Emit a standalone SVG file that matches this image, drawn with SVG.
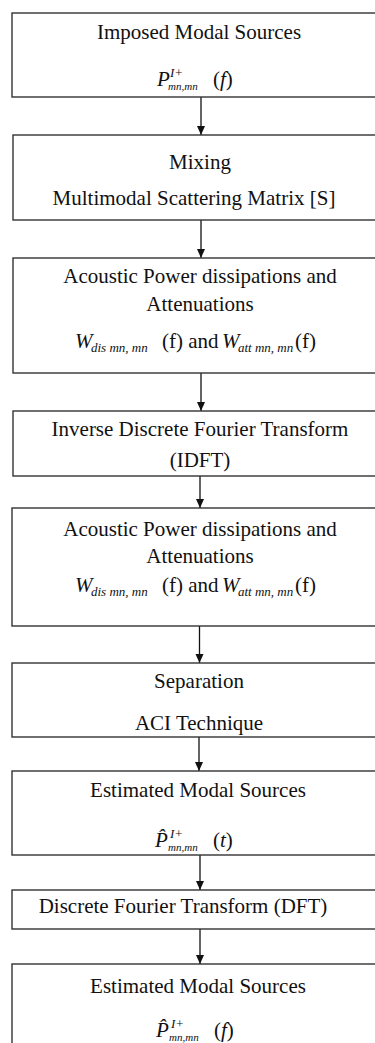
<svg xmlns="http://www.w3.org/2000/svg" width="375" height="1043" viewBox="0 0 375 1043">
<style>
  .box { fill: #ffffff; stroke: #333333; stroke-width: 1.4; }
  .t { font-family: "Liberation Serif", "Times New Roman", serif; font-size: 21px; fill: #111111; text-anchor: middle; }
  .f { font-family: "Liberation Serif", "Times New Roman", serif; font-size: 21px; fill: #111111; }
  .i { font-style: italic; }
  .sub { font-style: italic; font-size: 13px; }
  .sup { font-style: italic; font-size: 13px; }
  .sm { font-style: italic; font-size: 11px; }
  .conn { stroke: #111111; stroke-width: 1.3; fill: none; }
</style>
<defs>
  <marker id="ah" markerUnits="userSpaceOnUse" markerWidth="10" markerHeight="10" refX="9" refY="4" orient="auto">
    <path d="M0,0 L9,4 L0,8 Z" fill="#111111"/>
  </marker>
</defs>
<rect width="375" height="1043" fill="#ffffff"/>

<g id="connectors">
  <line class="conn" x1="201" y1="97" x2="201" y2="135" marker-end="url(#ah)"/>
  <line class="conn" x1="201" y1="220" x2="201" y2="258" marker-end="url(#ah)"/>
  <line class="conn" x1="201" y1="373" x2="201" y2="411" marker-end="url(#ah)"/>
  <line class="conn" x1="200" y1="476" x2="200" y2="508" marker-end="url(#ah)"/>
  <line class="conn" x1="199.5" y1="626" x2="199.5" y2="663" marker-end="url(#ah)"/>
  <line class="conn" x1="199" y1="737" x2="199" y2="771" marker-end="url(#ah)"/>
  <line class="conn" x1="200" y1="855" x2="200" y2="890" marker-end="url(#ah)"/>
  <line class="conn" x1="200" y1="929" x2="200" y2="964" marker-end="url(#ah)"/>
</g>

<g id="n1">
  <rect class="box" x="12" y="13" width="380" height="84"/>
  <text class="t" x="199" y="39">Imposed Modal Sources</text>
  <text class="f"><tspan class="i" x="157" y="86">P</tspan><tspan class="sup" x="170" y="77">I+</tspan><tspan class="sm" x="168" y="90">mn,mn</tspan><tspan x="213" y="86">(</tspan><tspan class="i">f</tspan><tspan>)</tspan></text>
</g>

<g id="n2">
  <rect class="box" x="13" y="135" width="380" height="85"/>
  <text class="t" x="200" y="169">Mixing</text>
  <text class="t" x="194" y="205">Multimodal Scattering Matrix [S]</text>
</g>

<g id="n3">
  <rect class="box" x="13" y="258" width="380" height="115"/>
  <text class="t" x="200" y="283">Acoustic Power dissipations and</text>
  <text class="t" x="200" y="311">Attenuations</text>
  <text class="f"><tspan class="i" x="75" y="348">W</tspan><tspan class="sub" x="91" y="352">dis mn, mn</tspan><tspan x="162" y="348">(f) and </tspan><tspan class="i" x="222" y="348">W</tspan><tspan class="sub" x="238" y="352">att mn, mn</tspan><tspan x="295" y="348">(f)</tspan></text>
</g>

<g id="n4">
  <rect class="box" x="13" y="411" width="380" height="65"/>
  <text class="t" x="200" y="436">Inverse Discrete Fourier Transform</text>
  <text class="t" x="200" y="467">(IDFT)</text>
</g>

<g id="n5">
  <rect class="box" x="12" y="508" width="380" height="118"/>
  <text class="t" x="200" y="536">Acoustic Power dissipations and</text>
  <text class="t" x="200" y="563">Attenuations</text>
  <text class="f"><tspan class="i" x="75" y="592">W</tspan><tspan class="sub" x="91" y="596">dis mn, mn</tspan><tspan x="162" y="592">(f) and </tspan><tspan class="i" x="222" y="592">W</tspan><tspan class="sub" x="238" y="596">att mn, mn</tspan><tspan x="295" y="592">(f)</tspan></text>
</g>

<g id="n6">
  <rect class="box" x="12" y="663" width="380" height="74"/>
  <text class="t" x="199" y="688">Separation</text>
  <text class="t" x="199" y="730">ACI Technique</text>
</g>

<g id="n7">
  <rect class="box" x="12" y="771" width="380" height="84"/>
  <text class="t" x="198" y="797">Estimated Modal Sources</text>
  <text class="f"><tspan class="i" x="155" y="847">P̂</tspan><tspan class="sup" x="170" y="838">I+</tspan><tspan class="sm" x="168" y="851">mn,mn</tspan><tspan x="213" y="847">(</tspan><tspan class="i">t</tspan><tspan>)</tspan></text>
</g>

<g id="n8">
  <rect class="box" x="12" y="890" width="380" height="39"/>
  <text class="t" x="183" y="913">Discrete Fourier Transform (DFT)</text>
</g>

<g id="n9">
  <rect class="box" x="12" y="964" width="380" height="100"/>
  <text class="t" x="198" y="993">Estimated Modal Sources</text>
  <text class="f"><tspan class="i" x="156" y="1037">P̂</tspan><tspan class="sup" x="171" y="1028">I+</tspan><tspan class="sm" x="169" y="1041">mn,mn</tspan><tspan x="214" y="1037">(</tspan><tspan class="i">f</tspan><tspan>)</tspan></text>
</g>
</svg>
